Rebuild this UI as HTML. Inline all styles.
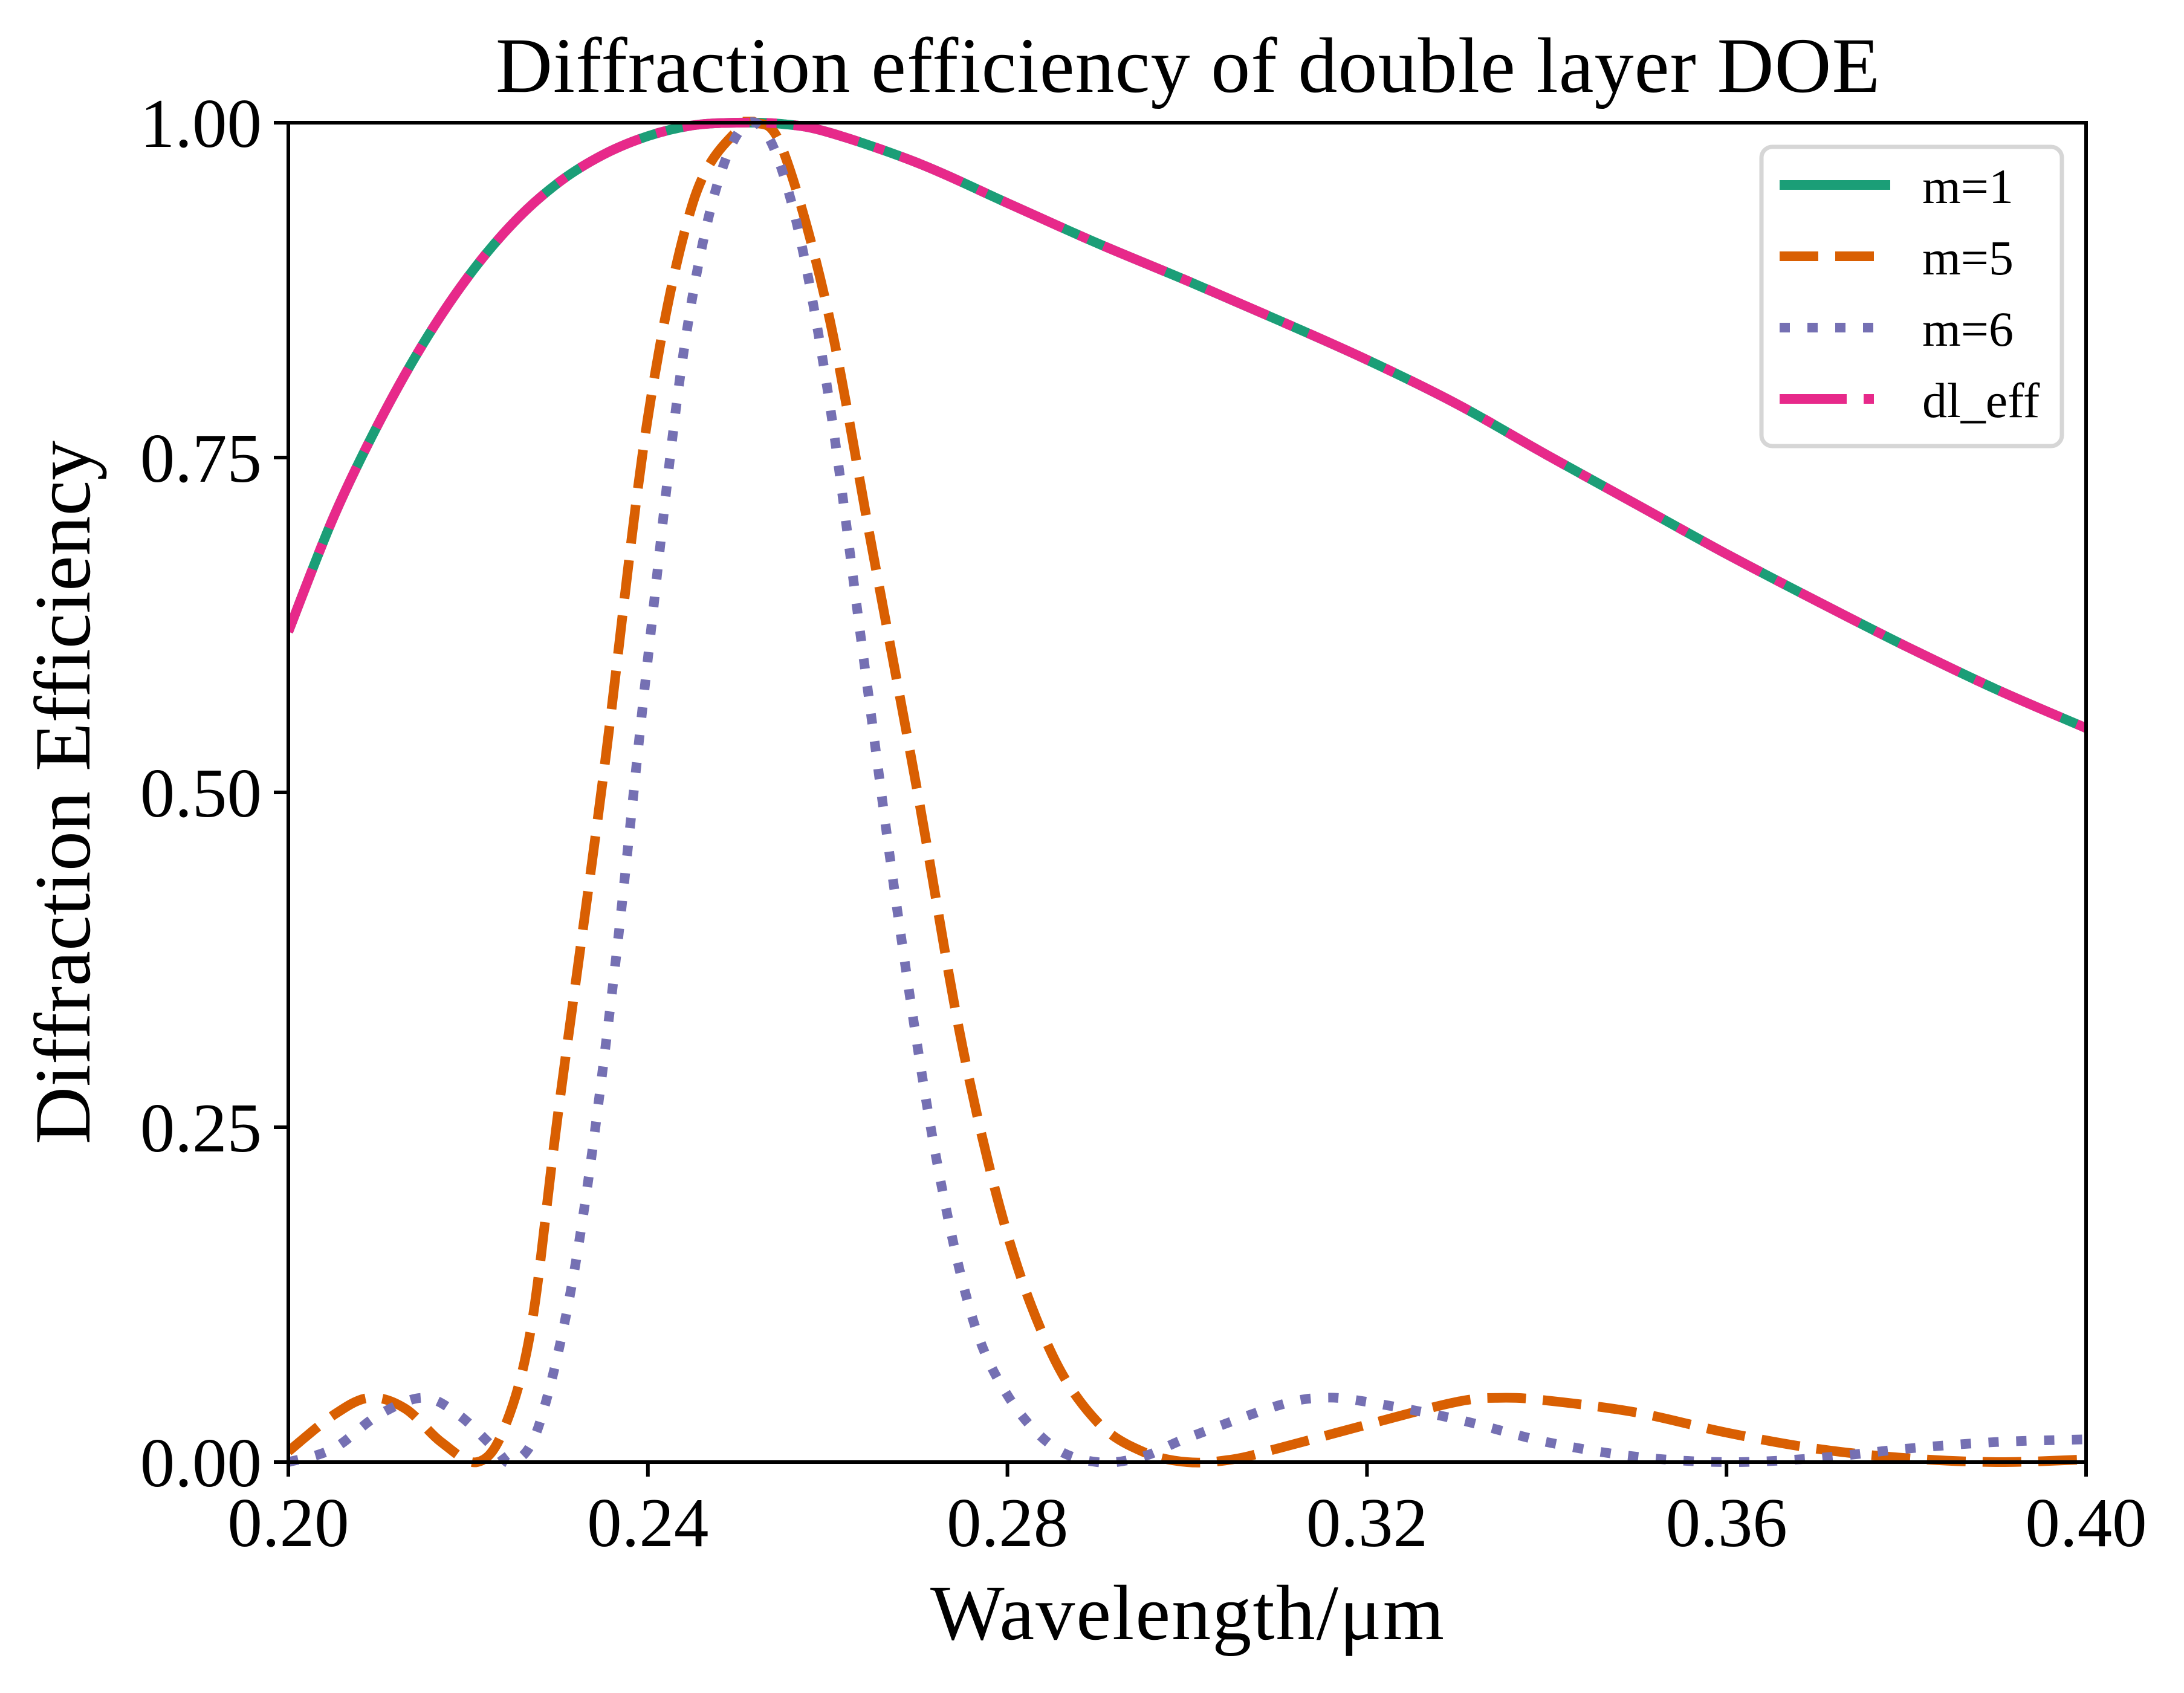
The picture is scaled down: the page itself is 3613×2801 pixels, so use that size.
<!DOCTYPE html>
<html><head><meta charset="utf-8"><style>
html,body{margin:0;padding:0;background:#fff;}
svg{display:block;font-family:"Liberation Serif","DejaVu Serif",serif;}
</style></head><body>
<svg id="chart" width="3613" height="2801" viewBox="0 0 3613 2801" xmlns="http://www.w3.org/2000/svg">
<rect x="0" y="0" width="3613" height="2801" fill="#fff"/>
<text x="1965" y="152" font-size="130" text-anchor="middle" textLength="2290">Diffraction efficiency of double layer DOE</text>
<g id="plot"></g>
<g id="axes"></g>
<text x="1964" y="2712" font-size="130" text-anchor="middle" textLength="850">Wavelength/μm</text>
<text transform="translate(148,1311) rotate(-90)" font-size="132" text-anchor="middle">Diffraction Efficiency</text>
<g id="legend"></g>
</svg>
<script>
const xTicks = [0.20, 0.24, 0.28, 0.32, 0.36, 0.40];
const xTickLabels = ["0.20", "0.24", "0.28", "0.32", "0.36", "0.40"];
const yTicks = [0, 0.25, 0.5, 0.75, 1.0];
const yTickLabels = ["0.00", "0.25", "0.50", "0.75", "1.00"];
const m1X = [0.20,0.205,0.21,0.215,0.22,0.225,0.23,0.235,0.24,0.245,0.25,0.255,0.26,0.27,0.28,0.29,0.30,0.31,0.32,0.33,0.34,0.35,0.36,0.37,0.38,0.39,0.40];
const m1Y = [0.62,0.705,0.775,0.835,0.885,0.925,0.955,0.976,0.99,0.998,1.0,0.999,0.993,0.97,0.94,0.91,0.882,0.853,0.823,0.79,0.752,0.715,0.678,0.643,0.609,0.577,0.548];
const m5X = [0.20,0.205,0.209,0.213,0.217,0.221,0.224,0.227,0.23,0.235,0.24,0.245,0.25,0.252,0.255,0.26,0.265,0.27,0.275,0.28,0.285,0.29,0.295,0.30,0.305,0.31,0.32,0.33,0.335,0.34,0.35,0.36,0.37,0.38,0.39,0.40];
const m5Y = [0.008,0.035,0.048,0.04,0.015,0.0,0.025,0.1,0.26,0.51,0.78,0.94,0.995,1.0,0.98,0.86,0.68,0.5,0.31,0.17,0.08,0.03,0.008,0.0,0.002,0.01,0.028,0.045,0.048,0.046,0.037,0.022,0.01,0.003,0.0,0.002];
const m6X = [0.20,0.205,0.21,0.215,0.219,0.223,0.225,0.228,0.232,0.236,0.24,0.244,0.248,0.252,0.256,0.26,0.264,0.268,0.272,0.276,0.28,0.285,0.29,0.295,0.30,0.31,0.315,0.32,0.33,0.34,0.35,0.36,0.37,0.38,0.39,0.40];
const m6Y = [0.0,0.01,0.035,0.048,0.035,0.01,0.0,0.03,0.15,0.35,0.6,0.83,0.96,1.0,0.94,0.8,0.6,0.4,0.23,0.11,0.05,0.012,0.0,0.004,0.018,0.042,0.048,0.045,0.032,0.015,0.004,0.0,0.003,0.01,0.015,0.017];
const dlX = m1X;
const dlY = m1Y;

const NS = "http://www.w3.org/2000/svg";
const L = 477, R = 3451, T = 203, B = 2419;
const xMin = 0.20, xMax = 0.40, yMin = 0, yMax = 1;
function sx(v){ return L + (v - xMin) / (xMax - xMin) * (R - L); }
function sy(v){ return B - (v - yMin) / (yMax - yMin) * (B - T); }
function mk(tag, attrs, parent){ const e = document.createElementNS(NS, tag); for (const k in attrs) e.setAttribute(k, attrs[k]); parent.appendChild(e); return e; }
function pathFor(xs, ys){
  const p = xs.map((x,i)=>[sx(x), sy(ys[i])]);
  let d = "M" + p[0][0].toFixed(1) + "," + p[0][1].toFixed(1);
  for (let i=0;i<p.length-1;i++){
    const p0 = p[i-1]||p[i], p1 = p[i], p2 = p[i+1], p3 = p[i+2]||p2;
    const c1 = [p1[0]+(p2[0]-p0[0])/6, p1[1]+(p2[1]-p0[1])/6];
    const c2 = [p2[0]-(p3[0]-p1[0])/6, p2[1]-(p3[1]-p1[1])/6];
    d += " C"+c1[0].toFixed(1)+","+c1[1].toFixed(1)+" "+c2[0].toFixed(1)+","+c2[1].toFixed(1)+" "+p2[0].toFixed(1)+","+p2[1].toFixed(1);
  }
  return d;
}
const plot = document.getElementById("plot");
const clip = mk("clipPath", {id:"clipArea"}, plot);
mk("rect", {x:L, y:T-10, width:R-L, height:B-T+20}, clip);
const series = [
  {name:"series-m1", xs:m1X, ys:m1Y, color:"#1b9e77", dash:"none"},
  {name:"series-m5", xs:m5X, ys:m5Y, color:"#d95f02", dash:"64 28"},
  {name:"series-m6", xs:m6X, ys:m6Y, color:"#7570b3", dash:"17 29"},
  {name:"series-dl-eff", xs:dlX, ys:dlY, color:"#e7298a", dash:"111 28 17 28"}
];
series.forEach(s=>{
  const el = mk("path", {d:pathFor(s.xs, s.ys), fill:"none", stroke:s.color, "stroke-width":16, "stroke-dasharray":s.dash, "clip-path":"url(#clipArea)"}, plot);
  
  
});
const axes = document.getElementById("axes");
const frame = mk("rect", {x:L, y:T, width:R-L, height:B-T, fill:"none", stroke:"#000", "stroke-width":6}, axes);


xTicks.forEach((v,i)=>{
  const t = mk("line", {x1:sx(v), x2:sx(v), y1:B, y2:B+24, stroke:"#000", "stroke-width":6}, axes);
  
  
  const lb = mk("text", {x:sx(v), y:2558, "font-size":115, "text-anchor":"middle"}, axes);
  lb.textContent = xTickLabels[i];
  
  
});
yTicks.forEach((v,i)=>{
  const t = mk("line", {x1:L-24, x2:L, y1:sy(v), y2:sy(v), stroke:"#000", "stroke-width":6}, axes);
  
  
  const lb = mk("text", {x:L-44, y:sy(v)+40, "font-size":115, "text-anchor":"end"}, axes);
  lb.textContent = yTickLabels[i];
  
  
});
const legend = document.getElementById("legend");
const box = mk("rect", {x:2914, y:243, width:497, height:495, rx:18, fill:"#fff", stroke:"#d6d6d6", "stroke-width":7}, legend);


const labels = ["m=1","m=5","m=6","dl_eff"];
series.forEach((s,i)=>{
  const y = 306 + i*118;
  const ln = mk("line", {x1:2944, x2:3127, y1:y, y2:y, stroke:s.color, "stroke-width":16, "stroke-dasharray":s.dash}, legend);
  
  
  const tx = mk("text", {x:3180, y:y+30, "font-size":82}, legend);
  tx.textContent = labels[i];
  
  
});
</script>
</body></html>
